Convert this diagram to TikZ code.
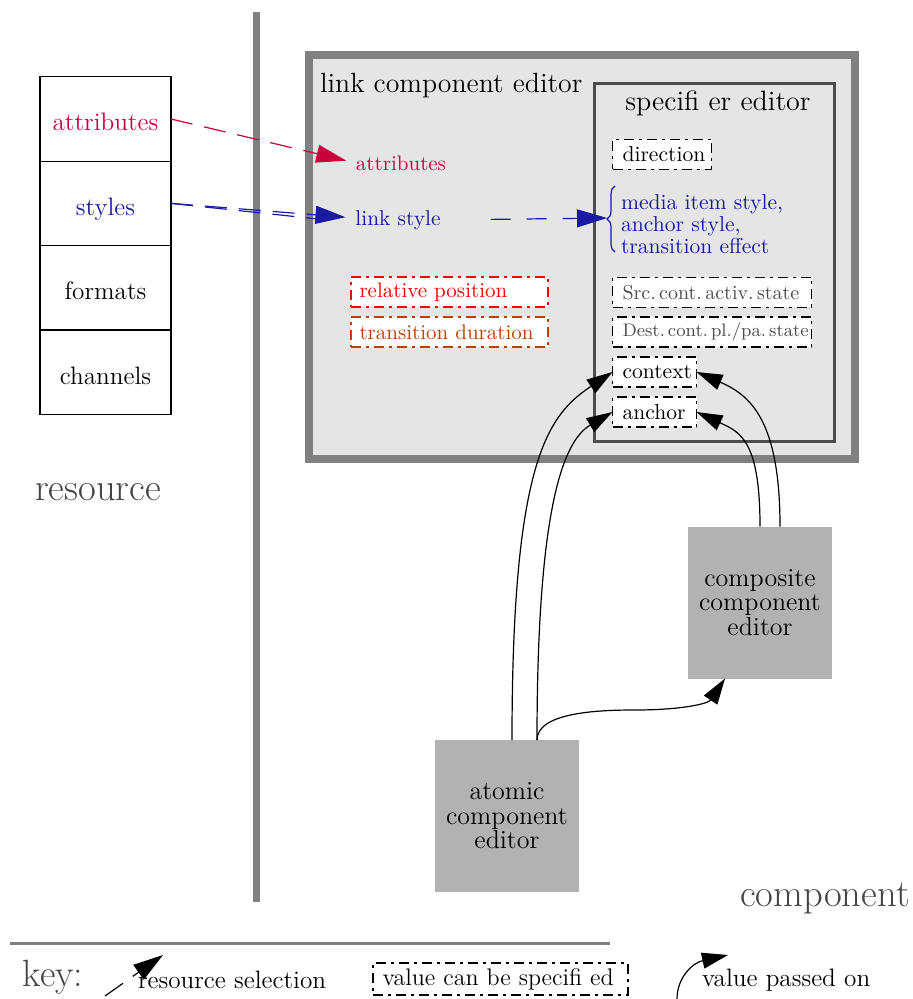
\documentclass[tikz,border=0pt]{standalone}
\usepackage{tikz}
\usetikzlibrary{arrows.meta, decorations.pathreplacing, positioning}

\definecolor{attrred}{RGB}{200,0,60}
\definecolor{styleblue}{RGB}{26,26,160}
\definecolor{durbrown}{RGB}{192,64,0}
\definecolor{keygray}{RGB}{68,68,68}

\begin{document}
\begin{tikzpicture}[x=0.5pt, y=-0.5pt, line width=0.6pt,
  every node/.style={inner sep=0pt, outer sep=0pt},
  stackbox/.style={draw, minimum width=65.5pt, minimum height=42.2pt,
    text height=12pt, text depth=0pt, font=\fontsize{12.6}{14}\selectfont},
  specbox/.style={draw, fill=white, dash pattern=on 5pt off 2.5pt on 1.5pt off 2.5pt,
    minimum height=15pt, anchor=north west, inner xsep=5pt, align=left,
    font=\fontsize{10.8}{12}\selectfont},
  editorbox/.style={fill=black!30, minimum width=72pt, minimum height=76pt,
    align=center, font=\fontsize{13}{12.3}\selectfont},
  biglabel/.style={text=keygray, font=\fontsize{19.3}{21}\selectfont},
  keytext/.style={anchor=west, font=\fontsize{12.6}{14}\selectfont},
  resarrow/.style={dash pattern=on 11pt off 6pt,
    -{Triangle[length=15pt,width=9pt]}, shorten >=5pt},
  passarrow/.style={-{Triangle[length=13pt,width=8pt]}}]
  \useasboundingbox (0,0) rectangle (913,999);

  % resource side
  \node[stackbox, text=attrred] (attr) at (105.5,119) {attributes};
  \node[stackbox, text=styleblue, below=0pt of attr] (sty) {styles};
  \node[stackbox, below=0pt of sty] (fmt) {formats};
  \node[stackbox, below=0pt of fmt] (chan) {channels};
  \node[biglabel] (res) at (98,492) {resource};

  \draw[gray, line width=3.5pt] (256,12) -- (256,902);

  % link component editor
  \node[draw=gray, line width=4pt, fill=gray!20, minimum width=272.75pt,
    minimum height=201.5pt, anchor=north west] (lce) at (309,55.5) {};
  \node[anchor=west, font=\fontsize{13.9}{15}\selectfont] (lcetitle) at (320,86)
    {link component editor};
  \node[text=attrred, font=\fontsize{10.5}{12}\selectfont] (lattr) at (401,163)
    {attributes};
  \node[text=styleblue, font=\fontsize{10.7}{12}\selectfont] (lstyle) at (398,220)
    {link style};
  \node[specbox, draw=red, text=red, text width=90pt, inner xsep=4.25pt,
    font=\fontsize{10.5}{12}\selectfont] (relpos) at (351,277)
    {\mbox{relative position}};
  \node[specbox, draw=durbrown, text=durbrown, text width=90pt, inner xsep=4.25pt,
    font=\fontsize{10.5}{12}\selectfont] (transdur) at (351,317)
    {\mbox{transition duration}};

  % specifier editor
  \node[draw=black!70, line width=1.5pt, fill=gray!20, minimum width=120pt,
    minimum height=178.75pt, anchor=north west] (spec) at (594,83.5) {};
  \node[font=\fontsize{14}{15}\selectfont] (spectitle) at (718,103)
    {specifi er editor};
  \node[specbox, text width=39.5pt] (dir) at (612.5,139.5) {direction};
  \draw[styleblue, decorate, decoration={brace, amplitude=4pt}]
    (615,252) -- (615,186);
  \coordinate (btip) at (607,218);
  \node[anchor=west, align=left, text=styleblue,
    font=\fontsize{10.8}{11}\selectfont] (mstyle) at (621,224)
    {media item style,\\anchor style,\\transition effect};
  \node[specbox, text=black!70, text width=89.5pt,
    font=\fontsize{10}{11}\selectfont] (src) at (612.5,277.5)
    {\mbox{Src.\,cont.\,activ.\,state}};
  \node[specbox, text=black!70, text width=89.5pt,
    font=\fontsize{9.1}{11}\selectfont] (dest) at (612.5,317)
    {\mbox{Dest.\,cont.\,pl./pa.\,state}};
  \node[specbox, text width=32pt] (ctx) at (612.5,357) {context};
  \node[specbox, text width=32pt] (anc) at (612.5,397) {anchor};

  % component side
  \node[editorbox] (comp) at (760,602.5) {composite\\component\\editor};
  \node[editorbox] (atom) at (507,816) {atomic\\component\\editor};
  \node[biglabel] (cmp) at (825,898) {component};

  % resource selections
  \draw[attrred, resarrow] (attr.east) -- (lattr.west);
  \draw[styleblue, resarrow] (sty.east) -- ([yshift=1pt]lstyle.west);
  \draw[styleblue, dash pattern=on 11pt off 6pt, shorten >=12pt]
    (sty.east) -- ([yshift=-1.5pt]lstyle.west);
  \draw[styleblue, dash pattern=on 10pt off 8pt,
    -{Triangle[length=15pt,width=9pt]}, shorten <=25pt] (lstyle.east) -- (btip);

  % values passed on
  \draw[passarrow] ([xshift=2.5pt]atom.north) .. controls (512,460) and (548,415)
    .. (ctx.west);
  \draw[passarrow] ([xshift=15pt]atom.north) .. controls (537,500) and (565,440)
    .. (anc.west);
  \draw[passarrow] ([xshift=15pt]atom.north) .. controls (537,712) and (600,710)
    .. (635,710) .. controls (680,710) and (708,704) .. ([xshift=-17.5pt]comp.south);
  \draw[passarrow] ([xshift=10pt]comp.north) .. controls (780,420) and (750,395)
    .. (ctx.east);
  \draw[passarrow] (comp.north) .. controls (760,440) and (740,432) .. (anc.east);

  % key
  \draw[gray, line width=1.5pt] (10,943) -- (610,943);
  \node[text=keygray, font=\fontsize{19}{21}\selectfont] (key) at (53,977) {key:};
  \coordinate (ksel1) at (105,996);
  \coordinate (ksel2) at (163,955);
  \draw[dash pattern=on 11pt off 6pt, -{Triangle[length=15pt,width=9pt]}]
    (ksel1) -- (ksel2);
  \node[keytext] (kseltext) at (138,980) {resource selection};
  \node[specbox, text width=118pt, inner xsep=4.75pt, minimum height=16pt,
    font=\fontsize{12}{14}\selectfont] (kspec) at (373,963)
    {\mbox{value can be specifi ed}};
  \coordinate (kpass1) at (677,999);
  \coordinate (kpass2) at (728,955);
  \draw[passarrow] (kpass1) .. controls (677,978) and (692,963) .. (kpass2);
  \node[keytext] (kpasstext) at (702,980) {value passed on};
\end{tikzpicture}
\end{document}
